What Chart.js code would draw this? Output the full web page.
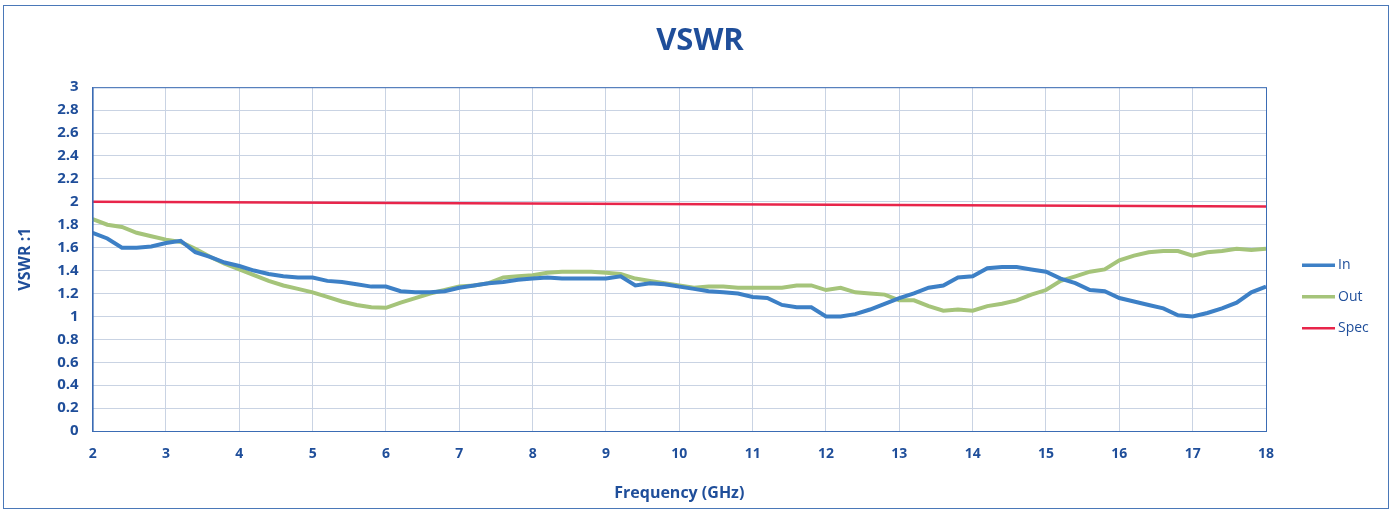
<!DOCTYPE html>
<html>
<head>
<meta charset="utf-8">
<script src="https://cdn.jsdelivr.net/npm/chart.js@4.4.1/dist/chart.umd.min.js"></script>
<style>
  html, body { margin: 0; padding: 0; background: #fff; }
  #wrap { position: absolute; left: 3px; top: 5px; width: 1386px; height: 504px; border: 1px solid #4a78b8; box-sizing: border-box; }
  canvas { display: block; }
</style>
</head>
<body>
<div id="wrap"><canvas id="chart"></canvas></div>
<script>
// frequency points (GHz), 0.2 GHz step
const freq = [2.0, 2.2, 2.4, 2.6, 2.8, 3.0, 3.2, 3.4, 3.6, 3.8,
  4.0, 4.2, 4.4, 4.6, 4.8, 5.0, 5.2, 5.4, 5.6, 5.8,
  6.0, 6.2, 6.4, 6.6, 6.8, 7.0, 7.2, 7.4, 7.6, 7.8,
  8.0, 8.2, 8.4, 8.6, 8.8, 9.0, 9.2, 9.4, 9.6, 9.8,
  10.0, 10.2, 10.4, 10.6, 10.8, 11.0, 11.2, 11.4, 11.6, 11.8,
  12.0, 12.2, 12.4, 12.6, 12.8, 13.0, 13.2, 13.4, 13.6, 13.8,
  14.0, 14.2, 14.4, 14.6, 14.8, 15.0, 15.2, 15.4, 15.6, 15.8,
  16.0, 16.2, 16.4, 16.6, 16.8, 17.0, 17.2, 17.4, 17.6, 17.8, 18.0];

const inVswr = [1.73, 1.68, 1.60, 1.60, 1.61, 1.64, 1.66, 1.56, 1.52, 1.47,
  1.44, 1.40, 1.37, 1.35, 1.34, 1.34, 1.31, 1.30, 1.28, 1.26,
  1.26, 1.22, 1.21, 1.21, 1.22, 1.25, 1.27, 1.29, 1.30, 1.32,
  1.33, 1.34, 1.33, 1.33, 1.33, 1.33, 1.35, 1.27, 1.29, 1.28,
  1.26, 1.24, 1.22, 1.21, 1.20, 1.17, 1.16, 1.10, 1.08, 1.08,
  1.00, 1.00, 1.02, 1.06, 1.11, 1.16, 1.20, 1.25, 1.27, 1.34,
  1.35, 1.42, 1.43, 1.43, 1.41, 1.39, 1.33, 1.29, 1.23, 1.22,
  1.16, 1.13, 1.10, 1.07, 1.01, 1.00, 1.03, 1.07, 1.12, 1.21, 1.26];

const outVswr = [1.85, 1.80, 1.78, 1.73, 1.70, 1.67, 1.65, 1.59, 1.52, 1.46,
  1.41, 1.36, 1.31, 1.27, 1.24, 1.21, 1.17, 1.13, 1.10, 1.08,
  1.075, 1.12, 1.16, 1.20, 1.23, 1.26, 1.27, 1.29, 1.34, 1.35,
  1.36, 1.38, 1.39, 1.39, 1.39, 1.38, 1.37, 1.33, 1.31, 1.29,
  1.27, 1.25, 1.26, 1.26, 1.25, 1.25, 1.25, 1.25, 1.27, 1.27,
  1.23, 1.25, 1.21, 1.20, 1.19, 1.14, 1.14, 1.09, 1.05, 1.06,
  1.05, 1.09, 1.11, 1.14, 1.19, 1.23, 1.31, 1.35, 1.39, 1.41,
  1.49, 1.53, 1.56, 1.57, 1.57, 1.53, 1.56, 1.57, 1.59, 1.58, 1.59];

const specFreq = [2, 18];
const specVswr = [2.0, 1.96];

const textBlue = '#1f4e9a';
const toXY = (xs, ys) => xs.map((x, i) => ({ x: x, y: ys[i] }));

// blue frame around the plot area + legend on the right, a bit below the middle
const plotFrame = {
  id: 'plotFrame',
  afterDraw(c) {
    const a = c.chartArea, ctx = c.ctx;
    ctx.save();
    ctx.strokeStyle = '#3b6cb4';
    ctx.lineWidth = 1;
    ctx.strokeRect(a.left + 0.5, a.top + 0.5, a.right - a.left, a.bottom - a.top);

    ctx.font = '14px "Open Sans"';
    ctx.textBaseline = 'middle';
    c.data.datasets.forEach((ds, i) => {
      const y = a.top + 178 + i * 31.5;
      const x0 = a.right + 36;
      ctx.strokeStyle = ds.borderColor;
      ctx.lineWidth = i === 2 ? 2.5 : 3.5;
      ctx.beginPath();
      ctx.moveTo(x0, y);
      ctx.lineTo(x0 + 33, y);
      ctx.stroke();
      ctx.fillStyle = textBlue;
      ctx.fillText(ds.label, x0 + 36, y);
    });
    ctx.restore();
  }
};

new Chart(document.getElementById('chart'), {
  type: 'line',
  data: {
    datasets: [
      { label: 'In', data: toXY(freq, inVswr), borderColor: '#3d80c6', backgroundColor: '#3d80c6', borderWidth: 4, pointRadius: 0, tension: 0 },
      { label: 'Out', data: toXY(freq, outVswr), borderColor: '#a5c47a', backgroundColor: '#a5c47a', borderWidth: 4, pointRadius: 0, tension: 0 },
      { label: 'Spec', data: toXY(specFreq, specVswr), borderColor: '#e8254a', backgroundColor: '#e8254a', borderWidth: 2.5, pointRadius: 0 }
    ]
  },
  options: {
    responsive: true,
    maintainAspectRatio: false,
    animation: false,
    layout: { padding: { left: 8, right: 0, top: 0, bottom: 1 } },
    plugins: {
      title: {
        display: true,
        text: 'VSWR',
        color: textBlue,
        font: { family: 'Open Sans', size: 31, weight: 'bold' },
        padding: { top: 17, bottom: 27 }
      },
      legend: { display: false },
      tooltip: { enabled: false }
    },
    scales: {
      x: {
        type: 'linear',
        min: 2,
        max: 18,
        ticks: { stepSize: 1, color: textBlue, font: { family: 'Open Sans', size: 14, weight: 'bold' }, padding: 14.5 },
        grid: { color: '#c9d3e3', drawTicks: false },
        border: { color: '#3b6cb4' },
        title: { display: true, text: 'Frequency (GHz)', color: textBlue, font: { family: 'Open Sans', size: 16, weight: 'bold' }, padding: { top: 7 } }
      },
      y: {
        min: 0,
        max: 3,
        ticks: {
          stepSize: 0.2,
          color: textBlue,
          font: { family: 'Open Sans', size: 15, weight: 'bold' },
          padding: 14,
          callback: v => String(+v.toFixed(1))
        },
        grid: { color: '#c9d3e3', drawTicks: false },
        border: { color: '#3b6cb4' },
        title: { display: true, text: 'VSWR :1', color: textBlue, font: { family: 'Open Sans', size: 16, weight: 'bold' }, padding: { bottom: 8 } }
      },
      // empty axis on the right, only reserves room for the legend
      yR: {
        position: 'right',
        min: 0,
        max: 3,
        ticks: { display: false },
        grid: { display: false },
        border: { display: false },
        afterFit: s => { s.width = 122; }
      }
    }
  },
  plugins: [plotFrame]
});
</script>
</body>
</html>
